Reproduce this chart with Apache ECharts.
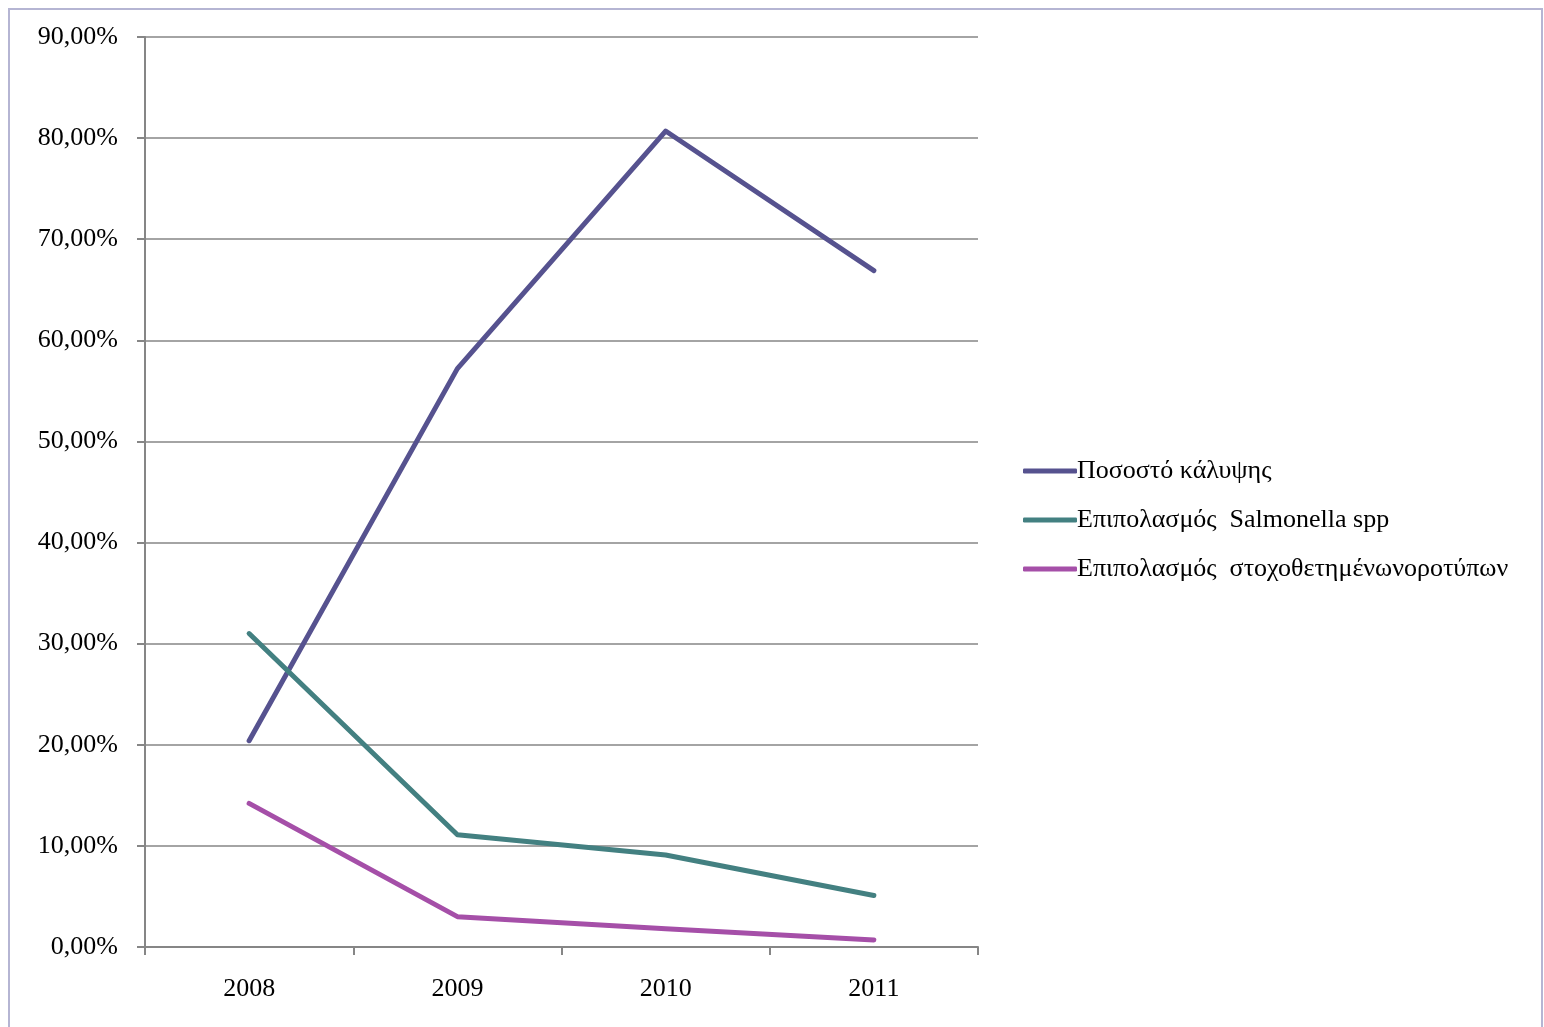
<!DOCTYPE html>
<html><head><meta charset="utf-8">
<script src="https://cdn.jsdelivr.net/npm/echarts@6/dist/echarts.min.js"></script>
<style>html,body{margin:0;padding:0;background:#fff}#c{width:1544px;height:1027px}</style>
</head><body><div id="c"></div>
<script>
const categories = ['2008','2009','2010','2011'];
const seriesNames = ['Ποσοστό κάλυψης','Επιπολασμός  Salmonella spp','Επιπολασμός  στοχοθετημένωνοροτύπων'];
const coverage = [20.4, 57.2, 80.7, 66.9];
const salmonella = [31.0, 11.1, 9.1, 5.1];
const targeted = [14.2, 3.0, 1.8, 0.7];
const FONT = '"Liberation Serif","DejaVu Serif",serif';
const chart = echarts.init(document.getElementById('c'));
const mk = (name, data, color) => ({
  name, type:'line', data, symbol:'none', smooth:false,
  lineStyle:{width:5, color, cap:'round', join:'round'}, itemStyle:{color}
});
chart.setOption({
  animation:false,
  graphic:[{type:'rect', shape:{x:9,y:9,width:1533,height:1030}, style:{fill:'none',stroke:'#b5b5d3',lineWidth:2}, silent:true}],
  grid:{left:145, right:566, top:37, bottom:80},
  legend:{orient:'vertical', left:1018, top:453, itemGap:23, itemWidth:54, itemHeight:5, icon:'roundRect',
    textStyle:{fontFamily:FONT, fontSize:26, color:'#000', padding:[0,0,0,-5]},
    data:seriesNames},
  xAxis:{type:'category', data:categories, boundaryGap:true,
    axisLine:{lineStyle:{color:'#868686', width:2}},
    axisTick:{show:true, length:8, lineStyle:{color:'#868686', width:2}},
    axisLabel:{fontFamily:FONT, fontSize:26, color:'#000', margin:29}},
  yAxis:{type:'value', min:0, max:90, interval:10,
    axisLine:{show:true, lineStyle:{color:'#868686', width:2}},
    axisTick:{show:true, length:8, lineStyle:{color:'#868686', width:2}},
    splitLine:{lineStyle:{color:'#868686', width:1.5}},
    axisLabel:{fontFamily:FONT, fontSize:26, color:'#000', margin:27,
      formatter:v=>v.toFixed(2).replace('.',',')+'%'}},
  series:[mk(seriesNames[0], coverage, '#56528f'), mk(seriesNames[1], salmonella, '#438081'), mk(seriesNames[2], targeted, '#a54fa8')]
});
</script></body></html>
